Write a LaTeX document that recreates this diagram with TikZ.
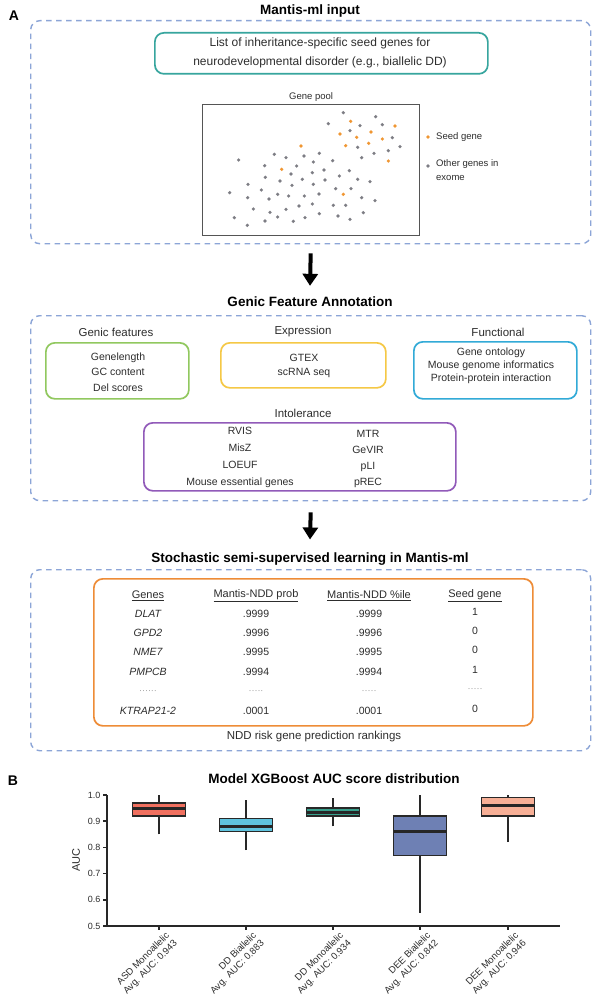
\documentclass[tikz,border=0pt]{standalone}
\usepackage{fontspec}
\setmainfont{Liberation Sans}
\usetikzlibrary{arrows.meta}
\definecolor{dashc}{RGB}{140,165,215}
\definecolor{tealc}{RGB}{55,165,158}
\definecolor{greenc}{RGB}{145,200,95}
\definecolor{yellowc}{RGB}{245,200,70}
\definecolor{bluec}{RGB}{50,170,215}
\definecolor{purplec}{RGB}{145,90,185}
\definecolor{orangec}{RGB}{238,140,55}
\definecolor{seedc}{RGB}{240,150,50}
\definecolor{dotc}{RGB}{125,125,132}
\definecolor{txtc}{RGB}{45,45,45}
\definecolor{poolc}{RGB}{85,85,85}
\definecolor{axc}{RGB}{40,40,40}
\definecolor{cA}{RGB}{240,112,95}
\definecolor{cB}{RGB}{95,195,222}
\definecolor{cC}{RGB}{55,160,140}
\definecolor{cD}{RGB}{110,128,180}
\definecolor{cE}{RGB}{247,175,150}
\newcommand{\aucbox}[7]{%
  \draw[whisk] (#1,#2) -- (#1,#6);
  \filldraw[fill=#7, draw=axc, line width=1.5pt] ({#1-26.5},#3) rectangle ({#1+26.5},#5);
  \draw[medline] ({#1-26.5},#4) -- ({#1+26.5},#4);
}
\tikzset{
  secbox/.style={draw=dashc, line width=1.4pt, dash pattern=on 5.5pt off 4.5pt, rounded corners=9pt, anchor=north west, inner sep=0},
  sectitle/.style={font=\fontsize{13.5}{16}\selectfont\bfseries, inner sep=0},
  panel/.style={font=\fontsize{14}{16}\selectfont\bfseries, inner sep=0},
  catbox/.style={draw=#1, line width=1.7pt, rounded corners=9pt, anchor=north west, inner sep=0},
  catlbl/.style={font=\fontsize{11.5}{14}\selectfont, text=txtc, inner sep=0},
  body/.style={font=\fontsize{10.5}{#1}\selectfont, text=txtc, inner sep=0, align=center},
  body/.default=13,
  small/.style={font=\fontsize{9.5}{14}\selectfont, text=txtc, inner sep=0, align=left},
  hdr/.style={font=\fontsize{11}{13}\selectfont, text=txtc, inner sep=0},
  cell/.style={font=\fontsize{10.5}{13}\selectfont, text=txtc, inner sep=0},
  gene/.style={font=\fontsize{10.5}{13}\selectfont\itshape, text=txtc, inner sep=0},
  ell/.style={font=\fontsize{9}{10}\selectfont, text=gray!80, inner sep=0},
  bigarrow/.style={line width=4pt, draw=black, -{Triangle[width=15pt,length=12pt]}},
  whisk/.style={draw=axc, line width=1.4pt},
  medline/.style={draw=black!85, line width=3pt},
  axis/.style={draw=axc, line width=1.6pt},
  ticklbl/.style={font=\fontsize{9}{11}\selectfont, text=txtc, inner sep=0},
  xlbl/.style={font=\fontsize{9.5}{11}\selectfont, text=txtc, inner sep=0, rotate=45, anchor=north east, align=right}
}
\begin{document}
\begin{tikzpicture}[x=1pt,y=-1pt]
\path[use as bounding box, fill=white] (0,0) rectangle (596,1000);

% ---------------- Panel A: input
\node[panel] (labA) at (14,16) {A};
\node[sectitle] (titleA) at (310,11) {Mantis-ml input};
\node[secbox, minimum width=560, minimum height=223] (secA) at (30,20) {};
\node[catbox=tealc, minimum width=333, minimum height=41] (seedbox) at (154,32) {};
\node[font=\fontsize{12}{19}\selectfont, text=txtc, align=center, inner sep=0] (seedtxt) at (320,52.5)
  {List of inheritance-specific seed genes for\\neurodevelopmental disorder (e.g., biallelic DD)};
\node[draw=poolc, line width=1.3pt, minimum width=217, minimum height=131, anchor=north west, inner sep=0] (pool) at (202,104) {};
\node[small, anchor=south] (poollbl) at ([yshift=2pt]pool.north) {Gene pool};
\foreach \a/\b in {490/68,587/80,445/101,540/107,607/104,510/122,637/143,533/172,582/190,625/182,660/170,545/203,
  176/210,283/193,318/203,372/198,418/190,254/227,400/216,458/212,350/228,256/262,333/252,397/248,432/240,478/258,
  508/242,204/283,300/273,367/268,435/270,533/268,570/275,149/308,244/300,336/286,400/283,467/296,513/296,203/323,
  267/327,293/313,326/318,373/318,417/312,545/323,585/332,220/357,270/367,318/358,357/348,397/342,460/346,497/346,
  163/383,202/406,255/393,293/381,340/394,375/383,418/371,474/378,510/388,550/368}
  \fill[dotc] ({180+\a/3},{90+\b/3}) circle (1.8pt);
\foreach \a/\b in {512/94,645/108,480/132,530/142,573/126,607/147,497/167,566/160,625/213,363/168,305/238,490/313}
  \fill[seedc] ({180+\a/3},{90+\b/3}) circle (1.8pt);
\fill[seedc] (428,137) circle (1.8pt);
\node[small, anchor=west] (legseed) at (436,137) {Seed gene};
\fill[dotc] (428,166) circle (1.8pt);
\node[small, anchor=north west] (legother) at (436,159.5) {Other genes in\\exome};

% ---------------- Panel A: annotation
\node[sectitle] (titleB) at (310,302) {Genic Feature Annotation};
\node[secbox, minimum width=560, minimum height=185] (secB) at (30,315) {};
\draw[bigarrow] ([yshift=-9pt]secA.south) -- ([yshift=11pt]titleB.north);

\node[catlbl] (lblGen) at (116,332) {Genic features};
\node[catbox=greenc, minimum width=143, minimum height=56] (boxGen) at (45,342) {};
\node[body=15.5] (txtGen) at (118,372) {Genelength\\GC content\\Del scores};

\node[catlbl] (lblExp) at (303,332) {Expression};
\node[catbox=yellowc, minimum width=165, minimum height=45] (boxExp) at (220,342) {};
\node[body=14] (txtExp) at (304,366) {GTEX\\scRNA seq};

\node[catlbl] (lblFun) at (498,332) {Functional};
\node[catbox=bluec, minimum width=163, minimum height=57] (boxFun) at (413,341) {};
\node[body=13] (txtFun) at (491,366) {Gene ontology\\Mouse genome informatics\\Protein-protein interaction};

\node[catlbl] (lblInt) at (303,413) {Intolerance};
\node[catbox=purplec, minimum width=312, minimum height=68] (boxInt) at (143,422) {};
\node[body=17] (txtIntL) at (240,457) {RVIS\\MisZ\\LOEUF\\Mouse essential genes};
\node[body=16] (txtIntR) at (368,459) {MTR\\GeVIR\\pLI\\pREC};

% ---------------- Panel A: learning
\node[sectitle] (titleC) at (310,559) {Stochastic semi-supervised learning in Mantis-ml};
\node[secbox, minimum width=560, minimum height=181] (secC) at (30,569) {};
\draw[bigarrow] ([yshift=-11pt]secB.south) -- ([yshift=13pt]titleC.north);
\node[catbox=orangec, minimum width=439, minimum height=147] (boxTab) at (93,578) {};

\node[hdr] (h1) at (148,596) {\underline{Genes}};
\node[hdr] (h2) at (256,596) {\underline{Mantis-NDD prob}};
\node[hdr] (h3) at (369,596) {\underline{Mantis-NDD \%ile}};
\node[hdr] (h4) at (475,596) {\underline{Seed gene}};

\node[gene] (g1) at (148,614) {DLAT};
\node[cell] (p1) at (256,614) {.9999};
\node[cell] (q1) at (369,614) {.9999};
\node[cell] (s1) at (475,612) {1};

\node[gene] (g2) at (148,633) {GPD2};
\node[cell] (p2) at (256,633) {.9996};
\node[cell] (q2) at (369,633) {.9996};
\node[cell] (s2) at (475,631) {0};

\node[gene] (g3) at (148,652) {NME7};
\node[cell] (p3) at (256,652) {.9995};
\node[cell] (q3) at (369,652) {.9995};
\node[cell] (s3) at (475,650) {0};

\node[gene] (g4) at (148,672) {PMPCB};
\node[cell] (p4) at (256,672) {.9994};
\node[cell] (q4) at (369,672) {.9994};
\node[cell] (s4) at (475,670) {1};

\node[ell] (g5) at (148,692) {······};
\node[ell] (p5) at (256,692) {·····};
\node[ell] (q5) at (369,692) {·····};
\node[ell] (s5) at (475,690) {·····};

\node[gene] (g6) at (148,711) {KTRAP21-2};
\node[cell] (p6) at (256,711) {.0001};
\node[cell] (q6) at (369,711) {.0001};
\node[cell] (s6) at (475,709) {0};

\node[catlbl] (caption) at (314,737) {NDD risk gene prediction rankings};

% ---------------- Panel B
\node[panel] (labB) at (13,781) {B};
\node[sectitle] (titleP) at (334,779) {Model XGBoost AUC score distribution};
\begin{scope}[shift={(0,1057)}, y=262pt]
  \draw[axis] (107,1.0) -- (107,0.5) -- (560,0.5);
  \foreach \v/\n in {0.5/a,0.6/b,0.7/c,0.8/d,0.9/e,1.0/f} {
    \draw[axis] (103,\v) -- (107,\v);
    \node[ticklbl, anchor=east] (ytick\n) at (100.5,\v) {\v};
  }
  \foreach \x in {159,246,333,420,508} \draw[axis] (\x,0.5) -- (\x,0.485);
  \aucbox{159}{0.85}{0.92}{0.95}{0.97}{1.00}{cA}
  \aucbox{246}{0.79}{0.86}{0.88}{0.91}{0.98}{cB}
  \aucbox{333}{0.88}{0.92}{0.935}{0.95}{0.99}{cC}
  \aucbox{420}{0.55}{0.77}{0.86}{0.92}{1.00}{cD}
  \aucbox{508}{0.82}{0.92}{0.96}{0.99}{1.00}{cE}
\end{scope}
\node[font=\fontsize{11}{13}\selectfont, rotate=90, text=txtc, inner sep=0] (auclbl) at (76,860) {AUC};
\node[xlbl] (xl1) at (165,931) {ASD Monoallelic\\Avg. AUC: 0.943};
\node[xlbl] (xl2) at (252,931) {DD Biallelic\\Avg. AUC: 0.883};
\node[xlbl] (xl3) at (339,931) {DD Monoallelic\\Avg. AUC: 0.934};
\node[xlbl] (xl4) at (426,931) {DEE Biallelic\\Avg. AUC: 0.842};
\node[xlbl] (xl5) at (514,931) {DEE Monoallelic\\Avg. AUC: 0.946};
\end{tikzpicture}
\end{document}
